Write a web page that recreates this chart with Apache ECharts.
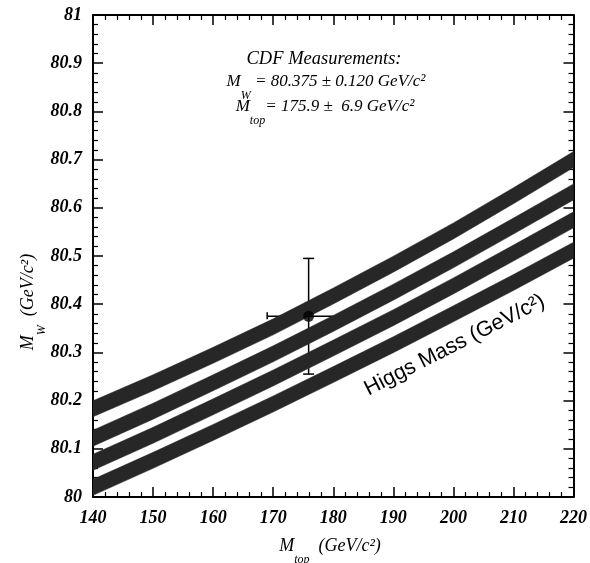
<!DOCTYPE html>
<html>
<head>
<meta charset="utf-8">
<script src="https://cdn.jsdelivr.net/npm/echarts@6/dist/echarts.min.js"></script>
<style>html,body{margin:0;padding:0;background:#fff}#c{width:590px;height:563px}</style>
</head>
<body>
<div id="c"></div>
<script>
// ---- data ----
const mtop  = [140, 150, 160, 170, 180, 190, 200, 210, 220];
const bandA = [80.183, 80.237, 80.294, 80.353, 80.417, 80.483, 80.552, 80.625, 80.700];
const bandB = [80.122, 80.178, 80.237, 80.297, 80.360, 80.425, 80.492, 80.562, 80.633];
const bandC = [80.072, 80.128, 80.187, 80.247, 80.309, 80.372, 80.438, 80.506, 80.575];
const bandD = [80.020, 80.076, 80.134, 80.193, 80.254, 80.316, 80.380, 80.445, 80.512];
const cdfPoint = [175.9, 80.375];   // Mtop, MW
const cdfErrors = [6.9, 0.120];     // Mtop error, MW error
const xRange = [140, 220];
const yRange = [80, 81];

const chart = echarts.init(document.getElementById('c'), null, {renderer: 'canvas'});

const serif = '"Liberation Serif", "Times New Roman", serif';
const labelFont = {fontFamily: serif, fontStyle: 'italic', fontWeight: 'bold', fontSize: 18, color: '#000'};

function axisCommon(extra) {
  return Object.assign({
    type: 'value',
    axisLine: {show: true, onZero: false, lineStyle: {color: '#000', width: 2}},
    axisTick: {show: true, inside: true, length: 10, lineStyle: {color: '#000', width: 1.5}},
    minorTick: {show: true, splitNumber: 5, length: 5, lineStyle: {color: '#000', width: 1.2}},
    splitLine: {show: false},
    minorSplitLine: {show: false}
  }, extra);
}

const BAND_HALF_PX = 8;
function band(vals) {
  return {
    type: 'custom',
    xAxisIndex: 0, yAxisIndex: 0,
    data: mtop.map((x, i) => [x, vals[i]]),
    clip: true,
    silent: true,
    z: 3,
    renderItem: function (params, api) {
      if (params.dataIndex !== 0) return null;
      const pts = mtop.map((x, i) => api.coord([x, vals[i]]));
      const upper = pts.map(p => [p[0], p[1] - BAND_HALF_PX]);
      const lower = pts.map(p => [p[0], p[1] + BAND_HALF_PX]).reverse();
      return {
        type: 'polygon',
        shape: {points: upper.concat(lower)},
        style: {fill: '#272727', stroke: '#272727', lineWidth: 0.5}
      };
    }
  };
}

function makeRich(size) {
  return {
    m: {fontFamily: serif, fontStyle: 'italic', fontSize: size, lineHeight: 20, verticalAlign: 'top', fill: '#000'},
    s: {fontFamily: serif, fontStyle: 'italic', fontSize: 12, lineHeight: 29, verticalAlign: 'bottom', fill: '#000'}
  };
}
const rich18 = makeRich(18);
const rich17 = makeRich(17);
const rich185 = makeRich(18.5);

const option = {
  animation: false,
  backgroundColor: '#fff',
  grid: {left: 93, right: 13, top: 15, bottom: 66},
  xAxis: [
    axisCommon({min: xRange[0], max: xRange[1], interval: 10, position: 'bottom',
      axisLabel: Object.assign({margin: 12}, labelFont)}),
    axisCommon({min: xRange[0], max: xRange[1], interval: 10, position: 'top',
      axisLabel: {show: false}})
  ],
  yAxis: [
    axisCommon({min: yRange[0], max: yRange[1], interval: 0.1, position: 'left',
      axisLabel: Object.assign({margin: 11,
        formatter: v => (Math.abs(v - Math.round(v)) < 1e-9 ? String(Math.round(v)) : v.toFixed(1))}, labelFont)}),
    axisCommon({min: yRange[0], max: yRange[1], interval: 0.1, position: 'right',
      axisLabel: {show: false}})
  ],
  series: [
    band(bandA), band(bandB), band(bandC), band(bandD),
    {
      type: 'custom',
      xAxisIndex: 0, yAxisIndex: 0,
      data: [[cdfPoint[0], cdfPoint[1], cdfErrors[0], cdfErrors[1]]],
      z: 2,
      renderItem: function (params, api) {
        const x = api.value(0), y = api.value(1), ex = api.value(2), ey = api.value(3);
        const t = api.coord([x, y + ey]);
        const b = api.coord([x, y - ey]);
        const l = api.coord([x - ex, y]);
        const r = api.coord([x + ex, y]);
        const st = {stroke: '#000', lineWidth: 1.5};
        return {
          type: 'group',
          children: [
            {type: 'line', shape: {x1: t[0], y1: t[1], x2: b[0], y2: b[1]}, style: st},
            {type: 'line', shape: {x1: t[0] - 5.5, y1: t[1], x2: t[0] + 5.5, y2: t[1]}, style: st},
            {type: 'line', shape: {x1: b[0] - 5.5, y1: b[1], x2: b[0] + 5.5, y2: b[1]}, style: st},
            {type: 'line', shape: {x1: l[0], y1: l[1], x2: r[0], y2: r[1]}, style: st},
            {type: 'line', shape: {x1: l[0], y1: l[1] - 4, x2: l[0], y2: l[1] + 3}, style: st},
            {type: 'line', shape: {x1: r[0], y1: r[1] - 4, x2: r[0], y2: r[1] + 3}, style: st}
          ]
        };
      }
    },
    {
      type: 'scatter',
      xAxisIndex: 0, yAxisIndex: 0,
      data: [cdfPoint],
      symbol: 'circle',
      symbolSize: 11,
      itemStyle: {color: '#000'},
      z: 6
    }
  ]
};
chart.setOption(option);

// annotations
const higgsPos = chart.convertToPixel({xAxisIndex: 0, yAxisIndex: 0}, [200.2, 80.315]);
chart.setOption({
  graphic: [
    {type: 'text', x: 324, y: 50, style: {text: '{m|CDF Measurements:}', rich: rich185, textAlign: 'center', textVerticalAlign: 'top'}},
    {type: 'text', x: 326, y: 73, style: {text: '{m|M}{s|W}{m| = 80.375 ± 0.120 GeV/c²}', rich: rich17, textAlign: 'center', textVerticalAlign: 'top'}},
    {type: 'text', x: 325, y: 98, style: {text: '{m|M}{s|top}{m|= 175.9 ±  6.9 GeV/c²}', rich: rich17, textAlign: 'center', textVerticalAlign: 'top'}},
    {type: 'text', x: 330, y: 537, style: {text: '{m|M}{s|top}{m|  (GeV/c²)}', rich: rich18, textAlign: 'center', textVerticalAlign: 'top'}},
    {type: 'text', x: 19, y: 302, rotation: Math.PI / 2, style: {text: '{m|M}{s|W}{m|  (GeV/c²)}', rich: rich18, textAlign: 'center', textVerticalAlign: 'top'}},
    {type: 'text', x: higgsPos[0], y: higgsPos[1], rotation: 27 * Math.PI / 180,
      style: {text: 'Higgs Mass (GeV/c²)', font: '21.5px "Liberation Sans", Arial, sans-serif', fill: '#000', textAlign: 'center', textVerticalAlign: 'middle'}}
  ]
});
</script>
</body>
</html>
